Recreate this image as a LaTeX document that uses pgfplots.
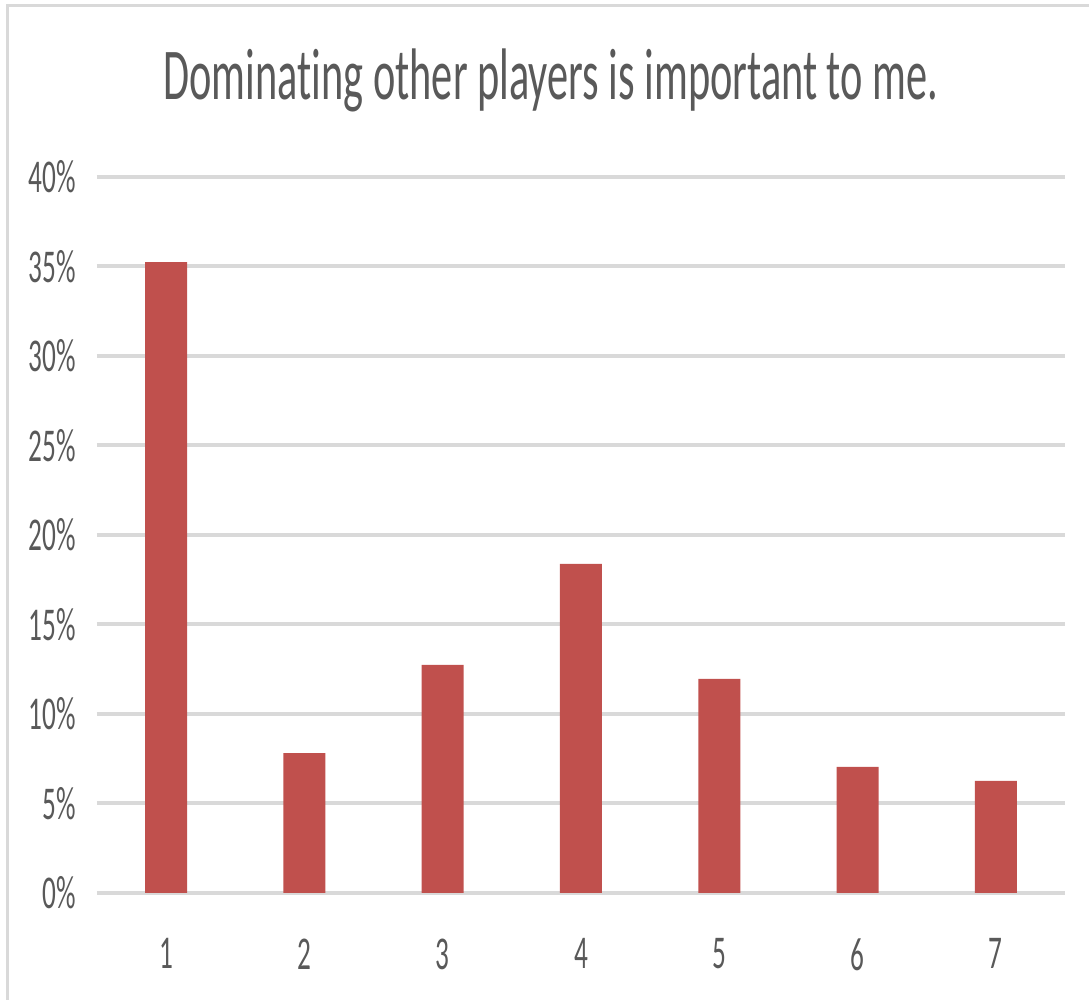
\documentclass[border=0pt]{standalone}
\usepackage{fontspec}
\setmainfont[FakeStretch=0.58, Ligatures=NoCommon]{Carlito}
\usepackage{pgfplots}
\pgfplotsset{compat=1.18}
\definecolor{barred}{HTML}{C0504D}
\definecolor{gridgray}{HTML}{D9D9D9}
\definecolor{txt}{HTML}{595959}
\begin{document}
\begin{tikzpicture}
\useasboundingbox (0,0) rectangle (544.5pt,500pt);
\draw[gridgray, line width=1.5pt] (3.5pt,0) -- (3.5pt,497pt) -- (544.5pt,497pt);
\node[txt, font=\fontsize{36.5}{42}\selectfont] at (275.5pt,460pt) {Dominating other players is important to me.};
\begin{axis}[
  at={(48.5pt,53.5pt)}, anchor=south west,
  scale only axis, width=484pt, height=358pt,
  xmin=0.5, xmax=7.5, ymin=0, ymax=40,
  axis line style={draw=none},
  tick style={draw=none},
  ymajorgrids, grid style={gridgray, line width=2pt},
  ytick={0,5,...,40},
  xtick={1,...,7},
  /pgf/number format/assume math mode=true,
  yticklabel={\pgfmathprintnumber{\tick}\%},
  ticklabel style={txt, font=\fontsize{23.5}{28}\selectfont},
  yticklabel style={xshift=-7pt},
  xticklabel style={yshift=-15pt},
  ybar, bar width=21pt,
]
\addplot[fill=barred, draw=none] coordinates {(1,35.25) (2,7.82) (3,12.74) (4,18.38) (5,11.96) (6,7.04) (7,6.26)};
\end{axis}
\end{tikzpicture}
\end{document}
